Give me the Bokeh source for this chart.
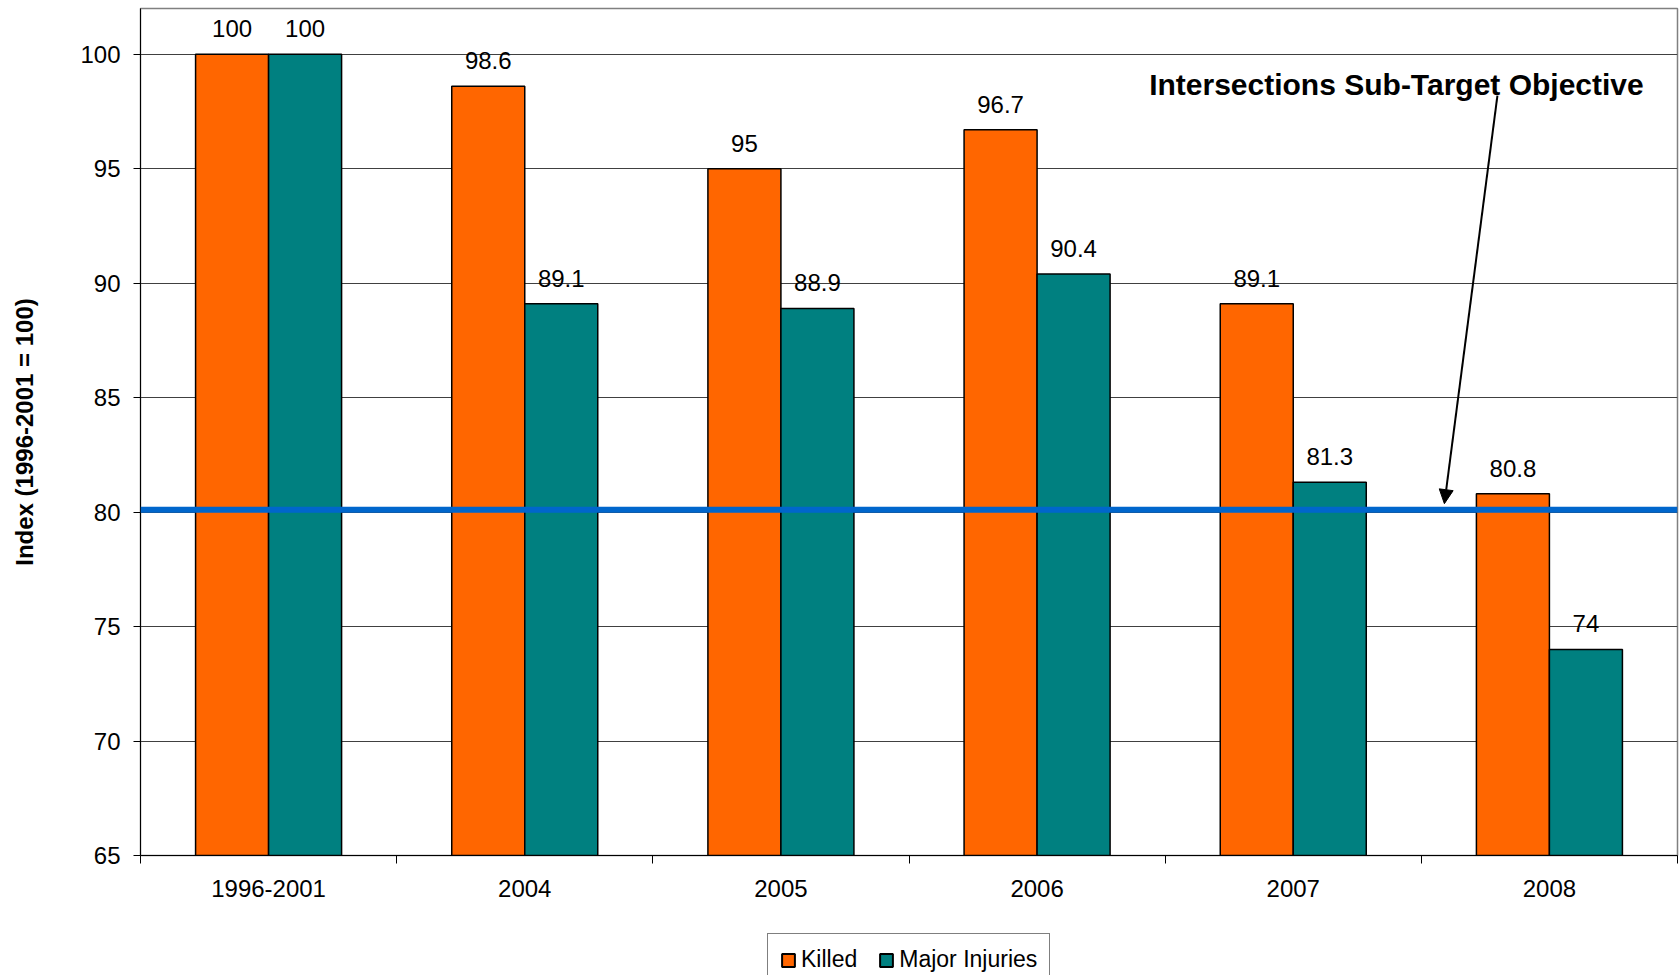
from bokeh.plotting import figure
from bokeh.layouts import column
from bokeh.models import (ColumnDataSource, Range1d, FixedTicker, LabelSet, Label,
                          Span, Arrow, NormalHead, Legend, LegendItem)
from bokeh.core.properties import value
from bokeh.transform import dodge
from bokeh.embed import file_html
from bokeh.resources import INLINE

# ---- data ----
categories = ["1996-2001", "2004", "2005", "2006", "2007", "2008"]
killed = [100, 98.6, 95, 96.7, 89.1, 80.8]
major_injuries = [100, 89.1, 88.9, 90.4, 81.3, 74]
target = 80.1
y_ticks = [65, 70, 75, 80, 85, 90, 95, 100]
annotation_text = "Intersections Sub-Target Objective"
series_names = ["Killed", "Major Injuries"]

FONT = "Liberation Sans"
ORANGE = "#FF6600"
TEAL = "#008080"
FS = "24px"

xpos = [i + 0.5 for i in range(len(categories))]
src = ColumnDataSource(dict(
    x=xpos,
    killed=killed,
    injuries=major_injuries,
    killed_lbl=[f"{v:g}" for v in killed],
    injuries_lbl=[f"{v:g}" for v in major_injuries],
))

p = figure(width=1679, height=925, output_backend="svg", toolbar_location=None,
           x_range=Range1d(0, len(categories)), y_range=Range1d(65, 102),
           min_border_left=140, min_border_right=2, min_border_top=8,
           min_border_bottom=70)

bw = 0.285
p.vbar(x=dodge("x", -bw / 2, range=p.x_range), top="killed", bottom=65, width=bw,
       source=src, fill_color=ORANGE, line_color="black", line_width=1.5)
p.vbar(x=dodge("x", bw / 2, range=p.x_range), top="injuries", bottom=65, width=bw,
       source=src, fill_color=TEAL, line_color="black", line_width=1.5)

for col, lbl, off in (("killed", "killed_lbl", -bw / 2), ("injuries", "injuries_lbl", bw / 2)):
    p.add_layout(LabelSet(x=dodge("x", off, range=p.x_range), y=col, text=lbl, source=src,
                          y_offset=17, text_align="center", text_baseline="alphabetic",
                          text_font=value(FONT), text_font_size=value(FS),
                          text_color="black"))

p.add_layout(Span(location=target, dimension="width", line_color="#0066CC", line_width=6))

p.add_layout(Label(x=3.9375, y=98.7, text=annotation_text, text_font=FONT,
                   text_font_style="bold", text_font_size="30px", text_color="black",
                   text_baseline="alphabetic"))
p.add_layout(Arrow(end=NormalHead(size=14, fill_color="black", line_color="black"),
                   x_start=5.297, y_start=98.19, x_end=5.09, y_end=80.37,
                   line_color="black", line_width=2))

# axes
p.xaxis.ticker = FixedTicker(ticks=xpos, minor_ticks=list(range(len(categories) + 1)))
p.xaxis.major_label_overrides = {x: c for x, c in zip(xpos, categories)}
p.xaxis.major_tick_line_color = None
p.xaxis.major_tick_out = 8
p.xaxis.major_tick_in = 0
p.xaxis.minor_tick_out = 8
p.xaxis.minor_tick_in = 0
p.xaxis.minor_tick_line_color = "black"
p.xaxis.major_label_standoff = 16
p.xaxis.major_label_text_font = FONT
p.xaxis.major_label_text_font_size = FS
p.xaxis.major_label_text_color = "black"
p.xaxis.axis_line_color = "black"

p.yaxis.ticker = FixedTicker(ticks=y_ticks)
p.yaxis.minor_tick_line_color = None
p.yaxis.major_tick_out = 7
p.yaxis.major_tick_in = 0
p.yaxis.major_label_standoff = 13
p.yaxis.major_label_text_font = FONT
p.yaxis.major_label_text_font_size = FS
p.yaxis.major_label_text_color = "black"
p.yaxis.axis_line_color = "black"
p.yaxis.axis_label = "Index (1996-2001 = 100)"
p.yaxis.axis_label_text_font = FONT
p.yaxis.axis_label_text_font_style = "bold"
p.yaxis.axis_label_text_font_size = "24px"
p.yaxis.axis_label_text_color = "black"
p.yaxis.axis_label_standoff = 39

p.xgrid.grid_line_color = None
p.ygrid.grid_line_color = "#404040"
p.ygrid.grid_line_width = 1
p.outline_line_color = "#808080"
p.outline_line_width = 1.5

# ---- legend strip below the chart ----
# The swatch renderers' own bars are squeezed into the area that the opaque legend box covers.
lp = figure(width=1679, height=50, output_backend="svg", toolbar_location=None,
            x_range=Range1d(-12.88, 18.92), y_range=Range1d(62.94, 114.4),
            min_border=0, min_border_left=0, min_border_right=0,
            min_border_top=0, min_border_bottom=0,
            x_axis_location=None, y_axis_location=None)
lp.grid.visible = False
lp.outline_line_color = None
lk = lp.vbar(x="x", top="killed", bottom=65, width=0.02, source=src,
             fill_color=ORANGE, line_color="black", line_width=2)
li = lp.vbar(x="x", top="injuries", bottom=65, width=0.02, source=src,
             fill_color=TEAL, line_color="black", line_width=2)
legend = Legend(items=[LegendItem(label=series_names[0], renderers=[lk]),
                       LegendItem(label=series_names[1], renderers=[li])],
                orientation="horizontal", location=(627, -11),
                label_text_font=FONT, label_text_font_size="23px", label_text_color="black",
                glyph_width=16, glyph_height=16, label_standoff=5, spacing=21,
                padding=12, border_line_color="black", border_line_width=1.5,
                background_fill_color="white", background_fill_alpha=1.0, margin=0)
lp.add_layout(legend)

layout = column(p, lp, spacing=0)
open("out.html", "w").write(file_html(layout, INLINE))
